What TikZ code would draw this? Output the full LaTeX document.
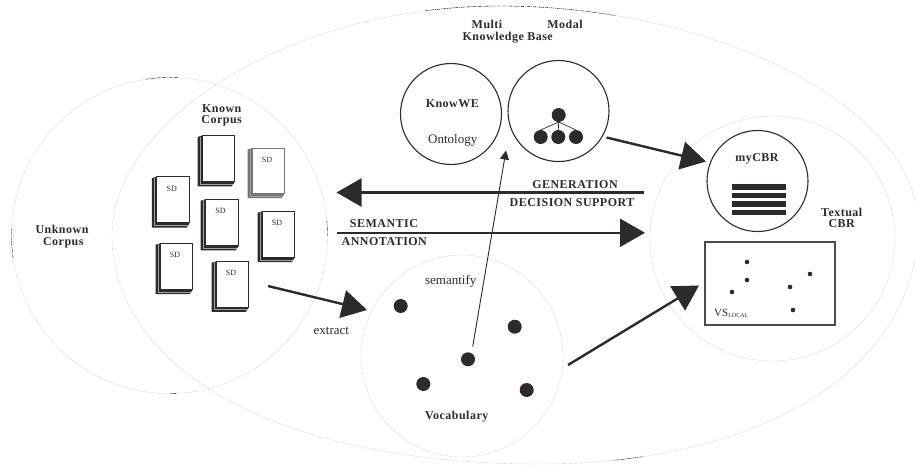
\documentclass[tikz,border=0pt]{standalone}
\usepackage{fontspec}
\setmainfont{Liberation Serif}
\newfontfamily\spacedserif[LetterSpace=4]{Liberation Serif}
\usetikzlibrary{arrows.meta}
\definecolor{ink}{HTML}{2E2A2B}
\definecolor{faint}{HTML}{BDBDBD}
\newcommand{\outerpath}{(112,235) .. controls (112,120) and (290,6) .. (500,6) .. controls (720,6) and (918,110) .. (918,225) .. controls (918,370) and (760,464) .. (540,464) .. controls (270,464) and (112,365) .. (112,235) -- cycle}
\newcommand{\stackdoc}[7]{% name,x,y,w,h,colour,label
  \fill[#6] (#2-4.8,#3+1.5) -- (#2,#3) -- (#2+#4,#3) -- (#2+#4,#3+#5+1) -- (#2+#4-2.5,#3+#5+4.8) -- (#2-4.8,#3+#5+4.8) -- cycle;
  \draw[white!55!ink,line width=.2] (#2-2.4,#3+1) -- (#2-2.4,#3+#5+2.4) -- (#2+#4-1.5,#3+#5+2.4);
  \node[docpage,draw=#6,minimum width=#4pt,minimum height=#5pt,anchor=north west] (#1) at (#2,#3) {};
  \node[sdlabel] (#1l) at (#2+#4/2-1.2,#3+12) {#7};
}
\tikzset{
  x=1pt,y=-1pt,
  zone/.style={circle,draw=faint,line width=.35,dash pattern=on .6pt off .6pt,inner sep=0,outer sep=0},
  zoneline/.style={draw=faint,line width=.35,dash pattern=on .6pt off .6pt},
  speck/.style={draw=black,line width=.35,dash pattern=on 3pt off 1pt on 1pt off 1pt},
  ring/.style={circle,draw=ink,line width=1.1,inner sep=0,outer sep=0,minimum size=101pt},
  docpage/.style={rectangle,fill=white,line width=.75,inner sep=0,outer sep=0},
  sdlabel/.style={font=\fontsize{8}{9}\selectfont,text=ink,inner sep=0},
  blab/.style={font=\fontsize{12}{13}\spacedserif\bfseries\selectfont,text=ink,inner sep=0},
  rlab/.style={font=\fontsize{13}{14}\selectfont,text=ink,inner sep=0},
  dot/.style={circle,fill=ink,inner sep=0,outer sep=0,minimum size=14pt},
  tinydot/.style={circle,fill=ink,inner sep=0,outer sep=0,minimum size=4.6pt},
  bigarrow/.style={draw=ink,line width=2.4,-{Triangle[length=25pt,width=28pt]},shorten >=0pt},
  thinarrow/.style={draw=ink,line width=.9,-{Triangle[length=9pt,width=9pt]}},
  bar/.style={rectangle,fill=ink,inner sep=0,outer sep=0,minimum width=54pt,minimum height=5.4pt},
}
\begin{document}
\begin{tikzpicture}
\useasboundingbox (0,0) rectangle (915,464);
% zones
\draw[zoneline] \outerpath;
\node[zone,minimum size=316pt] (unknown) at (169.5,235.5) {};
\node[zone,minimum size=245pt] (textual) at (772.5,238.5) {};
\node[zone,minimum size=202pt] (vocab) at (462,356) {};
% specks of the dashed outline
\begin{scope}
\clip (425,0) rectangle (615,30);
\draw[speck] \outerpath;
\end{scope}
\begin{scope}
\clip (613,440) rectangle (643,464);
\draw[speck] \outerpath;
\end{scope}
\begin{scope}
\clip (146,70) rectangle (178,85);
\draw[speck] (169.5,235.5) circle[radius=158];
\end{scope}
\begin{scope}
\clip (5,228) rectangle (20,258);
\draw[speck] (169.5,235.5) circle[radius=158];
\end{scope}
\begin{scope}
\clip (170,388) rectangle (176,398);
\draw[draw=black,line width=.4] (169.5,235.5) circle[radius=158];
\end{scope}
\begin{scope}
\clip (322,221) rectangle (333,235);
\draw[speck] (169.5,235.5) circle[radius=158];
\end{scope}
% documents
\stackdoc{d1}{202.3}{135.5}{32}{46}{ink}{}
\stackdoc{d2}{252.3}{148}{31.7}{45.3}{ink!65}{SD}
\stackdoc{d3}{156.7}{176.7}{32.6}{46}{ink}{SD}
\stackdoc{d4}{205.3}{199.3}{33}{46.3}{ink}{SD}
\stackdoc{d5}{262.3}{211.3}{32}{46}{ink}{SD}
\stackdoc{d6}{160.3}{243.3}{32}{46}{ink}{SD}
\stackdoc{d7}{216.3}{261.3}{32}{45.7}{ink}{SD}
% rings
\node[ring] (knowwe) at (451,114) {};
\node[ring] (modal) at (558.5,111) {};
\node[ring] (mycbr) at (757.5,181) {};
% tree
\node[dot] (t0) at (558.7,115) {};
\node[dot] (t1) at (540.7,137) {};
\node[dot] (t2) at (558.3,137) {};
\node[dot] (t3) at (576,137) {};
\draw[ink,line width=.7] (t0.south) -- (t1.north) (t0.south) -- (t2.north) (t0.south) -- (t3.north);
% bars
\node[bar] (b1) at (759,186.8) {};
\node[bar] (b2) at (759,195.3) {};
\node[bar] (b3) at (759,204) {};
\node[bar] (b4) at (759,212.6) {};
% vector space
\node[rectangle,draw=ink!85,line width=1.1,fill=white,inner sep=0,outer sep=0,minimum width=130pt,minimum height=83pt,anchor=north west] (vs) at (705,242) {};
\node[tinydot] (v1) at (747,262) {};
\node[tinydot] (v2) at (747,280) {};
\node[tinydot] (v3) at (732,292) {};
\node[tinydot] (v4) at (790,287) {};
\node[tinydot] (v5) at (810,274) {};
\node[tinydot] (v6) at (793,310) {};
\node[font=\fontsize{11}{12}\selectfont,text=ink,inner sep=0,anchor=base west] (vslabel) at (714,316) {VS\raisebox{-1.8pt}{\fontsize{6}{7}\selectfont LOCAL}};
% vocabulary dots
\node[dot] (w1) at (400.7,306) {};
\node[dot] (w2) at (514.7,326.7) {};
\node[dot] (w3) at (468,359.3) {};
\node[dot] (w4) at (423.3,384) {};
\node[dot] (w5) at (526.7,390) {};
% connector ends
\coordinate (gA) at (644,192.5);
\coordinate (gB) at (336.5,192.5);
\coordinate (sA) at (336.5,232.8);
\coordinate (sB) at (645,232.8);
\coordinate (eA) at (268,286);
\coordinate (eB) at (367,310);
\coordinate (kA) at (606.5,137.5);
\coordinate (kB) at (706,161.5);
\coordinate (vA) at (568,365);
\coordinate (vB) at (699,285.5);
\coordinate (uA) at (472.7,346.5);
\coordinate (uB) at (506,150.5);
\draw[bigarrow] (gA) -- (gB);
\draw[bigarrow] (sA) -- (sB);
\draw[bigarrow] (eA) -- (eB);
\draw[bigarrow] (kA) -- (kB);
\draw[bigarrow] (vA) -- (vB);
\draw[thinarrow] (uA) -- (uB);
% labels
\node[blab] (l1) at (62,229) {Unknown};
\node[blab] (l2) at (63.3,242.3) {Corpus};
\node[blab] (l3) at (221.7,109) {Known};
\node[blab] (l4) at (221.7,121) {Corpus};
\node[blab] (l5) at (487,24.7) {Multi};
\node[blab] (l6) at (565,24.7) {Modal};
\node[blab] (l7) at (507.7,38) {Knowledge Base};
\node[blab] (l8) at (452.3,103.7) {KnowWE};
\node[rlab] (l9) at (452.7,140) {Ontology};
\node[blab] (l10) at (757,158.7) {myCBR};
\node[blab] (l11) at (841.7,212) {Textual};
\node[blab] (l12) at (841.7,223.7) {CBR};
\node[blab] (l13) at (575,184.3) {GENERATION};
\node[blab] (l14) at (572,202.7) {DECISION SUPPORT};
\node[blab] (l15) at (384,224) {SEMANTIC};
\node[blab] (l16) at (384.3,241.7) {ANNOTATION};
\node[rlab] (l17) at (331.3,331) {extract};
\node[rlab] (l18) at (450.7,281.3) {semantify};
\node[blab] (l19) at (456.7,416.7) {Vocabulary};
\end{tikzpicture}
\end{document}
